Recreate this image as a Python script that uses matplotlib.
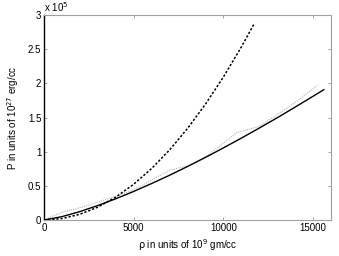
import numpy as np
import matplotlib
matplotlib.use('Agg')
import matplotlib.pyplot as plt

# density in units of 1e9 gm/cc, pressure in units of 1e5 (x 1e27 erg/cc)
rho_solid = [0, 1000, 2000, 3000, 4000, 5000, 6000, 7000, 8000, 9000,
             10000, 11000, 12000, 13000, 14000, 15000, 15600]
P_solid = [0, 0.049, 0.123, 0.212, 0.311, 0.418, 0.534, 0.655, 0.783, 0.916,
           1.055, 1.198, 1.345, 1.496, 1.652, 1.811, 1.907]

rho_dash = [0, 1000, 2000, 3000, 4000, 5000, 6000, 7000, 8000, 9000,
            10000, 11000, 11700]
P_dash = [0, 0.021, 0.084, 0.188, 0.335, 0.523, 0.753, 1.025, 1.339, 1.695,
          2.092, 2.531, 2.864]

rho_gray = [0, 500, 1100, 2200, 3100, 3900, 4800, 5500, 7000, 8100, 8700,
            9300, 10750, 12000, 13000, 14000, 15200]
P_gray = [0, 0.06, 0.12, 0.195, 0.27, 0.34, 0.42, 0.51, 0.73, 0.80, 0.88,
          0.98, 1.28, 1.37, 1.54, 1.72, 1.96]

plt.rcParams['font.family'] = 'Liberation Sans'
plt.rcParams['font.size'] = 7

fig = plt.figure(figsize=(3.39, 2.56), dpi=100)
ax = fig.add_axes([0.1298, 0.1406, 0.8466, 0.8008])

ax.plot(rho_gray, P_gray, color='#b4b4b4', lw=0.8, ls=(0, (1, 1)))
ax.plot(rho_solid, P_solid, color='k', lw=1.0)
ax.plot(rho_dash, P_dash, color='k', lw=1.1, ls=(0, (1.5, 1.2)))

ax.set_xlim(0, 16000)
ax.set_ylim(0, 3)
ax.set_xticks([0, 5000, 10000, 15000])
ax.set_xticklabels(['0', '5000', '10000', '15000'])
ax.set_yticks([0, 0.5, 1, 1.5, 2, 2.5, 3])
ax.set_yticklabels(['0', '0.5', '1', '1.5', '2', '2.5', '3'])
ax.tick_params(direction='in', length=2.5, width=0.5, top=True, right=True,
               color='#808080', pad=2)

for s in ['top', 'right', 'bottom']:
    ax.spines[s].set_color('#a0a0a0')
    ax.spines[s].set_linewidth(0.8)
ax.spines['left'].set_color('k')
ax.spines['left'].set_linewidth(1.0)

ax.text(0.0, 1.005, r'x 10$^5$', transform=ax.transAxes, fontsize=7,
        ha='left', va='bottom')

ax.set_xlabel(r'$\rm\rho$ in units of 10$^9$ gm/cc', fontsize=7, labelpad=3)
ax.set_ylabel(r'P in units of 10$^{27}$ erg/cc', fontsize=7, labelpad=5)

fig.savefig('out.png', dpi=100)
